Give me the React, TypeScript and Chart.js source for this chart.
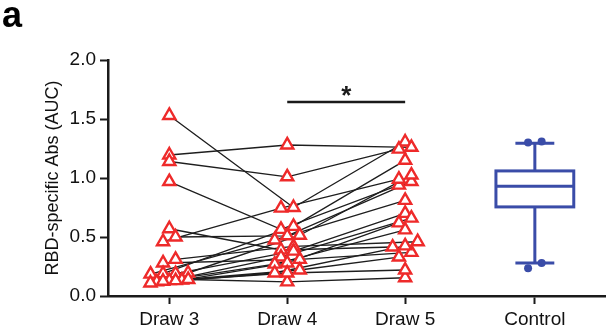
import React, { useEffect, useRef } from 'react';
import { Chart, registerables } from 'chart.js';

Chart.register(...registerables);

// ---- data ----
const categories = ['Draw 3', 'Draw 4', 'Draw 5', 'Control'];
const yTicks = [0, 0.5, 1.0, 1.5, 2.0];

// paired subjects: value at Draw 3, Draw 4, Draw 5
const draw3 = [1.53, 1.195, 1.14, 0.97, 0.57, 0.5, 0.46, 0.31, 0.28, 0.19, 0.185, 0.195, 0.19, 0.13, 0.135, 0.12, 0.11, 0.125, 0.14, 0.13];
const draw4 = [0.75, 1.28, 1.01, 0.565, 0.39, 0.51, 0.745, 0.42, 0.31, 0.59, 0.475, 0.515, 0.38, 0.33, 0.28, 0.27, 0.195, 0.22, 0.12, 0.195];
const draw5 = [1.305, 1.26, 1.245, 0.94, 0.415, 0.97, 0.99, 0.46, 0.37, 1.15, 0.81, 1.025, 0.7, 0.66, 0.62, 0.56, 0.425, 0.33, 0.155, 0.22];

// control group
const controlPoints = [1.3, 1.31, 0.28, 0.235];
const controlBox = [0.28, 0.755, 0.93, 1.06, 1.295]; // min, q1, median, q3, max

// significance annotation
const sigPair = ['Draw 4', 'Draw 5'];
const sigValue = [1.645];
const sigLabel = ['*'];

const panelLabel = 'a';
const yTitle = 'RBD-specific Abs (AUC)';

// ---- layout / style constants ----
const categoryPositions = [0, 1, 2, 3.1];
const RED = '#EE2A2A';
const BLUE = '#3A4CA8';
const AXIS = '#1a1a1a';
const FONT = '"Liberation Sans", Arial, Helvetica, sans-serif';

function swarm(values: number[], center: number, stepX = 0.106, rowH = 0.05, maxW = 0.32) {
  const idx = values.map((v, i) => [v, i] as [number, number]).sort((a, b) => a[0] - b[0]);
  const xs = new Array(values.length).fill(center);
  let row: number[] = [];
  let rowStart = -Infinity;
  const flush = () => {
    const n = row.length;
    const step = n > 1 ? Math.min(stepX, maxW / (n - 1)) : 0;
    row.forEach((i, k) => {
      xs[i] = center + (k - (n - 1) / 2) * step;
    });
    row = [];
  };
  for (const [v, i] of idx) {
    if (v - rowStart > rowH) {
      flush();
      rowStart = v;
    }
    row.push(i);
  }
  flush();
  return xs;
}

export default function App() {
  const ref = useRef<HTMLCanvasElement | null>(null);

  useEffect(() => {
    document.body.style.margin = '0';
    const canvas = ref.current;
    if (!canvas) return;

    const series = [draw3, draw4, draw5];
    const xsBySeries = series.map((s, k) => swarm(s, categoryPositions[k]));
    const ctrlXs = swarm(controlPoints, categoryPositions[3], 0.115, 0.06);

    const lineSets = draw3.map((_, i) => ({
      type: 'scatter' as const,
      data: series.map((s, k) => ({ x: xsBySeries[k][i], y: s[i] })),
      showLine: true,
      borderColor: '#1e1e1e',
      borderWidth: 1.35,
      pointRadius: 0,
      order: 2,
    }));

    const triSets = series.map((s, k) => ({
      type: 'scatter' as const,
      data: s.map((v, i) => ({ x: xsBySeries[k][i], y: v })),
      pointStyle: 'triangle' as const,
      pointRadius: 7,
      pointBorderWidth: 2.4,
      pointBorderColor: RED,
      pointBackgroundColor: '#ffffff',
      showLine: false,
      order: 1,
    }));

    const ctrlSet = {
      type: 'scatter' as const,
      data: controlPoints.map((v, i) => ({ x: ctrlXs[i], y: v })),
      pointStyle: 'circle' as const,
      pointRadius: 4,
      pointBorderWidth: 0,
      pointBackgroundColor: BLUE,
      showLine: false,
      order: 0,
    };

    const boxPlugin = {
      id: 'boxPlot',
      beforeDatasetsDraw(chart: any) {
        const { ctx, scales } = chart;
        const x = scales.x;
        const y = scales.y;
        const c = categoryPositions[3];
        const cx = x.getPixelForValue(c);
        const hw = x.getPixelForValue(c + 0.33) - cx;
        const cw = x.getPixelForValue(c + 0.165) - cx;
        const [mn, q1, md, q3, mx] = controlBox.map((v) => y.getPixelForValue(v));
        ctx.save();
        ctx.strokeStyle = BLUE;
        ctx.lineWidth = 3;
        ctx.lineCap = 'butt';
        ctx.beginPath();
        ctx.moveTo(cx, q3);
        ctx.lineTo(cx, mx);
        ctx.moveTo(cx - cw, mx);
        ctx.lineTo(cx + cw, mx);
        ctx.moveTo(cx, q1);
        ctx.lineTo(cx, mn);
        ctx.moveTo(cx - cw, mn);
        ctx.lineTo(cx + cw, mn);
        ctx.moveTo(cx - hw, md);
        ctx.lineTo(cx + hw, md);
        ctx.stroke();
        ctx.strokeRect(cx - hw, q3, hw * 2, q1 - q3);
        ctx.restore();
      },
    };

    const annotPlugin = {
      id: 'annot',
      afterDatasetsDraw(chart: any) {
        const { ctx, scales } = chart;
        const x = scales.x;
        const y = scales.y;
        const x1 = x.getPixelForValue(categoryPositions[categories.indexOf(sigPair[0])]);
        const x2 = x.getPixelForValue(categoryPositions[categories.indexOf(sigPair[1])]);
        const yy = y.getPixelForValue(sigValue[0]);
        ctx.save();
        ctx.strokeStyle = AXIS;
        ctx.lineWidth = 2.5;
        ctx.beginPath();
        ctx.moveTo(x1, yy);
        ctx.lineTo(x2, yy);
        ctx.stroke();
        ctx.fillStyle = AXIS;
        ctx.font = `bold 26px ${FONT}`;
        ctx.textAlign = 'center';
        ctx.textBaseline = 'alphabetic';
        ctx.fillText(sigLabel[0], (x1 + x2) / 2, yy + 2);
        ctx.font = `bold 36px ${FONT}`;
        ctx.textAlign = 'left';
        ctx.fillStyle = '#000';
        ctx.fillText(panelLabel, 2, 27);
        ctx.restore();
      },
    };

    const chart = new Chart(canvas, {
      type: 'scatter',
      data: { datasets: [...lineSets, ...triSets, ctrlSet] as any },
      plugins: [boxPlugin, annotPlugin],
      options: {
        animation: false,
        responsive: true,
        maintainAspectRatio: false,
        events: [],
        layout: { padding: { left: 42, top: 60, right: 2, bottom: 0 } },
        plugins: { legend: { display: false }, tooltip: { enabled: false } },
        scales: {
          x: {
            type: 'linear',
            min: -0.52,
            max: 3.7,
            afterBuildTicks: (s: any) => {
              s.ticks = categoryPositions.map((v) => ({ value: v }));
            },
            afterFit: (s: any) => {
              s.height = 36;
            },
            ticks: {
              autoSkip: false,
              maxRotation: 0,
              padding: 4,
              color: '#111',
              font: { size: 19, family: FONT },
              callback: (_v: any, i: number) => categories[i],
            },
            grid: { drawOnChartArea: false, drawTicks: true, tickLength: 8, tickWidth: 2, tickColor: AXIS },
            border: { display: true, width: 2.5, color: AXIS },
          },
          y: {
            type: 'linear',
            min: 0,
            max: 2,
            afterBuildTicks: (s: any) => {
              s.ticks = yTicks.map((v) => ({ value: v }));
            },
            afterFit: (s: any) => {
              s.width = 66;
            },
            ticks: {
              padding: 4,
              color: '#111',
              font: { size: 19, family: FONT },
              callback: (v: any) => Number(v).toFixed(1),
            },
            title: {
              display: true,
              text: yTitle,
              color: '#111',
              font: { size: 18, family: FONT },
              padding: { top: 0, bottom: 0 },
            },
            grid: { drawOnChartArea: false, drawTicks: true, tickLength: 8, tickWidth: 2, tickColor: AXIS },
            border: { display: true, width: 2.5, color: AXIS },
          },
        },
      },
    });

    return () => chart.destroy();
  }, []);

  return (
    <div style={{ position: 'relative', width: 615, height: 332 }}>
      <canvas ref={ref} />
    </div>
  );
}
